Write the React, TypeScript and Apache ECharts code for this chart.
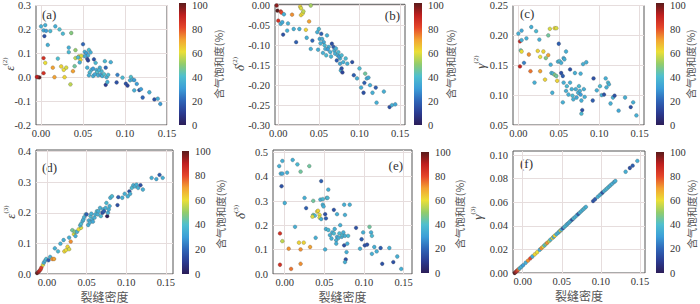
import React, { useEffect, useRef } from 'react';
import * as echarts from 'echarts';

// ---- tick labels ----
const xTicks = [0, 0.05, 0.1, 0.15];
const yTicksA = [-0.2, -0.1, 0, 0.1, 0.2, 0.3];
const yTicksB = [-0.3, -0.25, -0.2, -0.15, -0.1, -0.05, 0];
const yTicksC = [0.05, 0.1, 0.15, 0.2, 0.25];
const yTicksD = [0, 0.1, 0.2, 0.3, 0.4];
const yTicksE = [0, 0.1, 0.2, 0.3, 0.4, 0.5];
const yTicksF = [0, 0.02, 0.04, 0.06, 0.08, 0.1];
const satTicks = [0, 20, 40, 60, 80, 100];
const satTitle = '含气饱和度(%)';
const xName = '裂缝密度';

// ---- data: [crack density, value, gas saturation %] ----
const panelA = [
  [0.000,0.213,35],[0.005,0.218,35],[0.003,0.196,33],[0.006,0.194,30],[0.011,0.193,38],[0.017,0.213,35],[0.022,0.200,40],[0.026,0.182,38],[0.036,0.185,48],[0.004,0.172,15],[0.008,0.135,35],
  [0.033,0.124,35],[0.033,0.105,38],[0.041,0.113,50],[0.045,0.087,60],[0.041,0.080,55],[0.047,0.073,62],[0.050,0.138,20],[0.052,0.106,35],[0.054,0.101,30],[0.056,0.091,35],[0.057,0.114,40],[0.055,0.077,15],[0.056,0.070,12],[0.059,0.104,35],[0.052,0.088,33],[0.048,0.089,58],[0.044,0.083,38],[0.046,0.062,35],
  [0.003,0.080,85],[0.005,0.060,60],[0.003,0.017,85],[-0.004,0.000,95],[-0.002,-0.001,100],[-0.005,0.001,90],[0.016,0.000,70],[0.014,0.040,70],[0.024,0.045,62],[0.027,0.031,60],[0.028,0.000,62],[0.030,0.040,58],[0.035,-0.030,55],[0.038,0.025,70],[0.040,0.046,45],[0.020,0.078,40],
  [0.055,0.040,35],[0.060,0.031,35],[0.058,0.020,38],[0.062,0.036,30],[0.063,0.075,15],[0.065,0.060,38],[0.066,0.030,35],[0.067,0.020,40],[0.068,0.008,35],[0.070,0.040,35],[0.071,0.010,30],[0.072,0.025,38],[0.073,0.005,35],[0.075,0.013,40],[0.076,0.067,38],[0.077,0.040,20],[0.078,0.000,35],[0.077,-0.032,10],[0.079,-0.020,35],[0.080,0.010,38],[0.083,0.063,35],[0.062,0.005,35],[0.057,0.008,35],[0.064,0.012,33],[0.069,0.030,36],
  [0.090,-0.022,15],[0.091,0.010,25],[0.097,-0.002,38],[0.101,-0.027,15],[0.103,-0.035,12],[0.106,-0.013,35],[0.107,0.001,40],[0.109,-0.010,35],[0.111,-0.012,30],[0.111,-0.055,35],[0.114,-0.028,30],[0.117,-0.054,15],[0.119,-0.050,30],[0.121,-0.085,20],[0.129,-0.063,35],[0.135,-0.093,15],[0.139,-0.090,35],[0.142,-0.112,30],
];

const panelB = [
  [-0.002,0.000,95],[-0.001,-0.013,100],[0.003,-0.015,85],[0.004,-0.018,80],[0.000,-0.038,85],[0.003,-0.046,35],[0.005,-0.042,33],[0.007,-0.022,35],[0.006,-0.073,15],[0.011,-0.063,35],[0.012,-0.045,35],[0.017,-0.023,72],[0.019,-0.059,35],[0.022,-0.092,18],[0.026,-0.059,35],[0.027,-0.003,62],[0.028,-0.007,58],[0.028,-0.024,62],[0.030,-0.020,60],[0.031,-0.015,55],[0.040,0.000,52],[0.038,-0.040,70],[0.034,-0.061,62],[0.035,-0.081,35],[0.040,-0.109,35],[0.042,-0.088,20],[0.048,-0.067,35],[0.049,-0.111,35],[0.050,-0.059,38],
  [0.051,-0.084,33],[0.053,-0.071,18],[0.054,-0.084,35],[0.056,-0.092,33],[0.052,-0.095,35],[0.057,-0.100,38],[0.058,-0.109,35],[0.060,-0.075,35],[0.062,-0.104,35],[0.055,-0.119,35],[0.059,-0.125,38],[0.064,-0.117,35],[0.066,-0.096,15],[0.068,-0.104,18],[0.069,-0.113,35],[0.070,-0.121,35],[0.072,-0.138,18],[0.073,-0.125,35],[0.074,-0.117,38],[0.076,-0.133,35],[0.076,-0.146,33],[0.077,-0.163,35],[0.078,-0.158,15],[0.079,-0.168,12],[0.080,-0.142,35],[0.083,-0.133,38],[0.085,-0.146,35],[0.061,-0.110,30],[0.065,-0.128,36],[0.071,-0.108,35],[0.075,-0.128,30],[0.078,-0.125,38],
  [0.091,-0.142,15],[0.093,-0.175,18],[0.097,-0.183,35],[0.100,-0.158,38],[0.102,-0.206,35],[0.105,-0.219,15],[0.106,-0.194,18],[0.107,-0.171,45],[0.109,-0.183,35],[0.111,-0.181,33],[0.113,-0.200,35],[0.116,-0.219,35],[0.120,-0.206,18],[0.121,-0.244,35],[0.130,-0.216,35],[0.137,-0.255,15],[0.140,-0.250,35],[0.144,-0.248,33],
];

const panelC = [
  [0.000,0.203,35],[0.004,0.208,33],[0.002,0.190,88],[0.004,0.192,35],[0.010,0.195,35],[0.016,0.214,35],[0.022,0.207,38],[0.026,0.193,35],[0.037,0.200,45],[0.039,0.211,58],[0.045,0.212,62],[0.047,0.212,58],
  [0.003,0.175,42],[0.004,0.173,60],[0.002,0.148,88],[0.007,0.154,25],[0.013,0.168,72],[0.015,0.140,75],[0.020,0.121,35],[0.024,0.174,62],[0.027,0.164,60],[0.027,0.140,70],[0.031,0.173,62],[0.034,0.162,48],[0.033,0.126,62],[0.037,0.167,70],[0.040,0.151,35],[0.041,0.137,35],[0.043,0.136,38],[0.042,0.104,35],[0.045,0.134,48],[0.047,0.132,45],[0.048,0.124,62],[0.050,0.186,18],[0.049,0.156,35],[0.051,0.157,38],[0.053,0.137,15],[0.055,0.132,18],[0.053,0.154,35],[0.056,0.162,33],[0.059,0.173,35],[0.057,0.160,35],[0.056,0.121,35],[0.055,0.088,35],[0.059,0.107,35],[0.060,0.115,38],[0.062,0.101,35],[0.064,0.121,35],[0.064,0.143,15],[0.066,0.110,35],[0.067,0.099,38],[0.068,0.093,35],[0.070,0.137,35],[0.071,0.110,35],[0.072,0.096,33],[0.074,0.104,35],[0.075,0.115,38],[0.076,0.107,35],[0.077,0.101,30],[0.078,0.091,35],[0.078,0.069,38],[0.079,0.075,15],[0.080,0.152,35],[0.077,0.136,35],[0.082,0.097,35],[0.084,0.155,35],[0.081,0.110,35],
  [0.093,0.128,15],[0.092,0.091,18],[0.097,0.108,35],[0.101,0.115,38],[0.103,0.100,35],[0.106,0.101,15],[0.108,0.128,35],[0.109,0.113,35],[0.111,0.121,38],[0.112,0.118,35],[0.114,0.086,35],[0.117,0.096,35],[0.119,0.099,15],[0.124,0.074,33],[0.132,0.096,35],[0.139,0.080,15],[0.142,0.088,35],[0.146,0.066,35],
];

const panelD = [
  [-0.0125,0.003,100],[-0.011,0.006,95],[-0.0095,0.010,90],[-0.008,0.015,85],[-0.007,0.021,82],[-0.005,0.030,58],[-0.004,0.037,35],[-0.0025,0.043,35],[-0.001,0.049,38],[0.002,0.045,18],[0.004,0.056,35],[0.007,0.049,72],[0.009,0.049,70],
  [0.010,0.084,35],[0.014,0.074,38],[0.017,0.099,35],[0.021,0.111,35],[0.022,0.074,62],[0.024,0.078,60],[0.026,0.089,62],[0.028,0.081,58],[0.028,0.119,35],[0.030,0.106,72],[0.032,0.143,45],[0.034,0.130,60],[0.035,0.138,48],[0.036,0.124,35],[0.038,0.138,35],[0.040,0.146,60],[0.043,0.151,58],[0.042,0.159,35],[0.043,0.164,38],[0.045,0.173,35],[0.046,0.178,35],[0.047,0.186,35],[0.049,0.195,38],[0.050,0.195,18],[0.052,0.160,35],[0.053,0.175,35],[0.054,0.168,35],[0.055,0.189,38],[0.056,0.197,35],[0.057,0.178,35],[0.058,0.171,33],[0.060,0.184,35],[0.061,0.195,35],[0.063,0.205,38],[0.064,0.195,35],[0.065,0.205,35],[0.067,0.216,35],[0.068,0.189,38],[0.070,0.200,15],[0.071,0.211,35],[0.072,0.205,18],[0.074,0.216,35],[0.075,0.232,38],[0.076,0.189,0],[0.077,0.200,35],[0.078,0.211,35],[0.079,0.222,35],[0.080,0.249,35],[0.082,0.254,38],
  [0.089,0.225,15],[0.090,0.251,18],[0.095,0.249,35],[0.098,0.262,35],[0.102,0.254,35],[0.104,0.270,15],[0.105,0.262,35],[0.107,0.281,38],[0.109,0.290,35],[0.111,0.286,35],[0.113,0.292,35],[0.115,0.281,35],[0.118,0.290,15],[0.121,0.276,35],[0.132,0.314,35],[0.138,0.310,33],[0.142,0.324,18],[0.146,0.314,35],
];

const panelE = [
  [-0.007,0.444,35],[-0.003,0.465,35],[-0.005,0.413,35],[-0.003,0.413,33],[0.003,0.417,35],[0.010,0.469,35],[0.016,0.451,38],[0.020,0.421,45],[0.031,0.444,45],
  [-0.004,0.361,15],[0.000,0.292,35],[-0.006,0.167,85],[-0.003,0.135,55],[-0.006,0.038,85],[0.008,0.021,75],[0.005,0.104,72],[0.013,0.194,35],[0.018,0.129,62],[0.020,0.101,72],[0.024,0.129,62],[0.020,0.042,72],[0.032,0.111,70],[0.025,0.313,35],[0.027,0.271,18],[0.036,0.243,45],[0.038,0.240,38],[0.035,0.236,58],[0.036,0.301,45],[0.041,0.257,60],[0.042,0.260,62],[0.044,0.243,60],[0.044,0.232,58],[0.045,0.306,35],[0.046,0.226,35],[0.048,0.308,38],[0.039,0.149,35],[0.046,0.382,18],[0.048,0.285,35],[0.049,0.278,35],[0.051,0.246,15],[0.052,0.229,18],[0.053,0.313,35],[0.054,0.313,38],[0.055,0.347,35],[0.052,0.185,35],[0.051,0.101,35],[0.055,0.181,38],[0.057,0.160,35],[0.059,0.146,35],[0.060,0.171,35],[0.062,0.167,38],[0.063,0.185,35],[0.065,0.139,35],[0.065,0.125,35],[0.066,0.153,33],[0.068,0.149,35],[0.069,0.167,38],[0.062,0.264,15],[0.066,0.246,35],[0.070,0.201,35],[0.072,0.153,35],[0.073,0.160,38],[0.074,0.171,35],[0.075,0.118,15],[0.076,0.157,35],[0.076,0.243,35],[0.075,0.285,35],[0.077,0.060,15],[0.076,0.049,35],[0.078,0.090,35],[0.079,0.125,35],[0.080,0.157,38],[0.082,0.285,35],
  [0.090,0.190,15],[0.095,0.104,35],[0.097,0.143,18],[0.099,0.171,35],[0.101,0.118,15],[0.104,0.121,15],[0.107,0.194,45],[0.109,0.171,35],[0.110,0.157,38],[0.110,0.083,35],[0.113,0.111,35],[0.116,0.093,35],[0.121,0.107,18],[0.123,0.042,15],[0.132,0.107,35],[0.137,0.049,15],[0.142,0.072,35],[0.147,0.021,35],
];

const panelF = [
  [-0.0103,0.0000,100],[-0.0090,0.0008,95],[-0.0081,0.0014,90],[-0.0070,0.0020,85],[-0.0060,0.0026,80],[-0.0048,0.0034,72],[-0.0038,0.0040,35],[-0.0017,0.0053,35],[0.0005,0.0066,30],[0.0038,0.0087,35],[0.0068,0.0105,72],[0.0098,0.0124,80],[0.0124,0.0140,35],[0.0154,0.0158,62],[0.0184,0.0176,60],[0.0218,0.0197,35],[0.0239,0.0210,72],[0.0261,0.0224,62],[0.0278,0.0234,40],[0.0295,0.0245,48],[0.0312,0.0255,72],[0.0338,0.0271,55],[0.0355,0.0282,38],[0.0380,0.0297,62],[0.0395,0.0306,35],[0.0410,0.0316,62],[0.0432,0.0329,35],[0.0455,0.0343,38],[0.0470,0.0352,35],[0.0484,0.0361,62],[0.0496,0.0368,35],
  [0.0515,0.0380,15],[0.0530,0.0389,35],[0.0548,0.0400,38],[0.0565,0.0411,35],[0.0580,0.0420,33],[0.0598,0.0431,35],[0.0615,0.0442,35],[0.0632,0.0452,15],[0.0650,0.0463,38],[0.0668,0.0474,35],[0.0690,0.0488,35],[0.0710,0.0500,18],[0.0730,0.0512,35],[0.0750,0.0525,35],[0.0770,0.0537,35],[0.0790,0.0549,38],[0.0808,0.0560,35],
  [0.0900,0.0610,15],[0.0925,0.0625,18],[0.0960,0.0646,35],[0.0985,0.0660,35],[0.1005,0.0672,35],[0.1020,0.0682,15],[0.1040,0.0694,35],[0.1062,0.0707,35],[0.1080,0.0718,38],[0.1100,0.0730,35],[0.1120,0.0742,35],[0.1142,0.0755,35],[0.1167,0.0770,33],[0.1185,0.0780,35],[0.1316,0.0858,35],[0.1370,0.0890,15],[0.1406,0.0910,18],[0.1466,0.0950,35],
];

const jetColors = ['#2c1d58', '#2b3c92', '#2f66b8', '#3c9ed8', '#4fbfcf', '#92cc6c', '#ebdf36', '#f3a231', '#e5452a', '#bf1f1f', '#5a1b1b'];

const SERIF = 'Liberation Serif';
const CJK = 'Noto Sans CJK SC';

const panels = [
  { data: panelA, yTicks: yTicksA, yDec: 1, xr: [-0.006, 0.15], yr: [-0.2, 0.3], grid: { left: 36, top: 3, width: 131, height: 122 }, cb: { left: 179, top: 3, width: 7, height: 122 }, cbTitle: [218, 64], yName: '{g|ε}{s|(2)}', yNamePos: [9, 64], tag: '(a)', tagPos: [42, 14], tagAlign: 'left', bottomRow: false },
  { data: panelB, yTicks: yTicksB, yDec: 2, xr: [-0.004, 0.156], yr: [-0.3, 0.003], grid: { left: 275, top: 3, width: 130, height: 122 }, cb: { left: 414, top: 3, width: 8, height: 122 }, cbTitle: [450, 64], yName: '{g|δ}{s|(2)}', yNamePos: [239, 64], tag: '(b)', tagPos: [400, 15], tagAlign: 'right', bottomRow: false },
  { data: panelC, yTicks: yTicksC, yDec: 2, xr: [-0.0066, 0.1554], yr: [0.05, 0.25], grid: { left: 513, top: 3, width: 131, height: 122 }, cb: { left: 656, top: 3, width: 8, height: 122 }, cbTitle: [690, 64], yName: '{g|γ}{s|(2)}', yNamePos: [480, 62], tag: '(c)', tagPos: [520, 13], tagAlign: 'left', bottomRow: false },
  { data: panelD, yTicks: yTicksD, yDec: 1, xr: [-0.0138, 0.159], yr: [0, 0.405], grid: { left: 36, top: 150, width: 137, height: 124 }, cb: { left: 182, top: 151, width: 7, height: 123 }, cbTitle: [220, 214], yName: '{g|ε}{s|(3)}', yNamePos: [10, 212], tag: '(d)', tagPos: [42, 167], tagAlign: 'left', bottomRow: true },
  { data: panelE, yTicks: yTicksE, yDec: 1, xr: [-0.0148, 0.1606], yr: [0, 0.51], grid: { left: 273, top: 150, width: 139, height: 124 }, cb: { left: 421, top: 152, width: 8, height: 121 }, cbTitle: [459, 214], yName: '{g|δ}{s|(3)}', yNamePos: [240, 212], tag: '(e)', tagPos: [403, 165], tagAlign: 'right', bottomRow: true },
  { data: panelF, yTicks: yTicksF, yDec: 2, xr: [-0.0124, 0.1564], yr: [0, 0.1034], grid: { left: 513, top: 151, width: 132, height: 122 }, cb: { left: 656, top: 152, width: 8, height: 121 }, cbTitle: [691, 214], yName: '{g|γ}{s|(3)}', yNamePos: [477, 213], tag: '(f)', tagPos: [520, 163], tagAlign: 'left', bottomRow: true },
];

export default function App() {
  const ref = useRef<HTMLDivElement>(null);
  useEffect(() => {
    if (!ref.current) return;
    const chart = echarts.init(ref.current, undefined, { renderer: 'svg' });
    const n = panels.length;
    const labelStyle = { fontFamily: SERIF, fontSize: 10.5, color: '#333' };

    const grid: any[] = [];
    const xAxis: any[] = [];
    const yAxis: any[] = [];
    const series: any[] = [];
    const elements: any[] = [];

    panels.forEach((p, i) => {
      grid.push({ ...p.grid, show: true, borderColor: '#555', borderWidth: 1, containLabel: false });
      xAxis.push({
        gridIndex: i, type: 'value', min: p.xr[0], max: p.xr[1],
        axisLine: { show: false },
        axisTick: { show: false, customValues: xTicks },
        axisLabel: { ...labelStyle, customValues: xTicks, margin: 3, formatter: (v: number) => v.toFixed(2) },
        splitLine: { show: true, lineStyle: { color: '#e6dddd', width: 1 } },
        name: p.bottomRow ? xName : '', nameLocation: 'middle', nameGap: 16,
        nameTextStyle: { fontFamily: CJK, fontSize: 12, color: '#555', lineHeight: 12 },
      });
      yAxis.push({
        gridIndex: i, type: 'value', min: p.yr[0], max: p.yr[1],
        axisLine: { show: false },
        axisTick: { show: false, customValues: p.yTicks },
        axisLabel: { ...labelStyle, customValues: p.yTicks, margin: 5, formatter: (v: number) => v.toFixed(p.yDec) },
        splitLine: { show: true, lineStyle: { color: '#e6dddd', width: 1 } },
      });
      series.push({
        type: 'scatter', xAxisIndex: i, yAxisIndex: i, data: p.data,
        symbolSize: 3.8,
        itemStyle: { borderColor: '#555', borderWidth: 0.3, opacity: 1 },
      });
    });

    panels.forEach((p, i) => {
      const gi = n + i;
      grid.push({ ...p.cb, show: false, containLabel: false });
      xAxis.push({ gridIndex: gi, type: 'value', min: 0, max: 1, show: false });
      yAxis.push({
        gridIndex: gi, type: 'value', min: 0, max: 100, interval: 20, position: 'right',
        axisLine: { show: false }, axisTick: { show: false }, splitLine: { show: false },
        axisLabel: { ...labelStyle, margin: 6, customValues: satTicks },
      });
      const stops = jetColors.map((c, k) => ({ offset: k / (jetColors.length - 1), color: c }));
      elements.push({
        type: 'rect', silent: true,
        shape: { x: p.cb.left, y: p.cb.top, width: p.cb.width, height: p.cb.height },
        style: { fill: new echarts.graphic.LinearGradient(0, 1, 0, 0, stops) },
      });
      elements.push({
        type: 'text', x: p.cbTitle[0], y: p.cbTitle[1], rotation: Math.PI / 2, silent: true,
        style: { text: satTitle, fontFamily: CJK, fontSize: 10.5, fill: '#555', align: 'center', verticalAlign: 'middle' },
      });
      elements.push({
        type: 'text', x: p.yNamePos[0], y: p.yNamePos[1], rotation: Math.PI / 2, silent: true,
        style: {
          text: p.yName, align: 'center', verticalAlign: 'middle',
          rich: {
            g: { fontFamily: SERIF, fontStyle: 'italic', fontSize: 13, lineHeight: 16, fill: '#444' },
            s: { fontFamily: SERIF, fontSize: 7, lineHeight: 8, fill: '#444', verticalAlign: 'top' },
          },
        },
      });
      elements.push({
        type: 'text', x: p.tagPos[0], y: p.tagPos[1], silent: true,
        style: { text: p.tag, fontFamily: SERIF, fontSize: 13, fill: '#333', align: p.tagAlign, verticalAlign: 'middle' },
      });
    });

    chart.setOption({
      animation: false,
      backgroundColor: '#fff',
      grid, xAxis, yAxis, series,
      visualMap: {
        type: 'continuous', show: false, min: 0, max: 100, dimension: 2,
        seriesIndex: panels.map((_, i) => i),
        inRange: { color: jetColors },
      },
      graphic: { elements },
    });
    return () => chart.dispose();
  }, []);
  return <div ref={ref} style={{ position: 'absolute', left: 0, top: 0, width: 700, height: 304 }} />;
}
